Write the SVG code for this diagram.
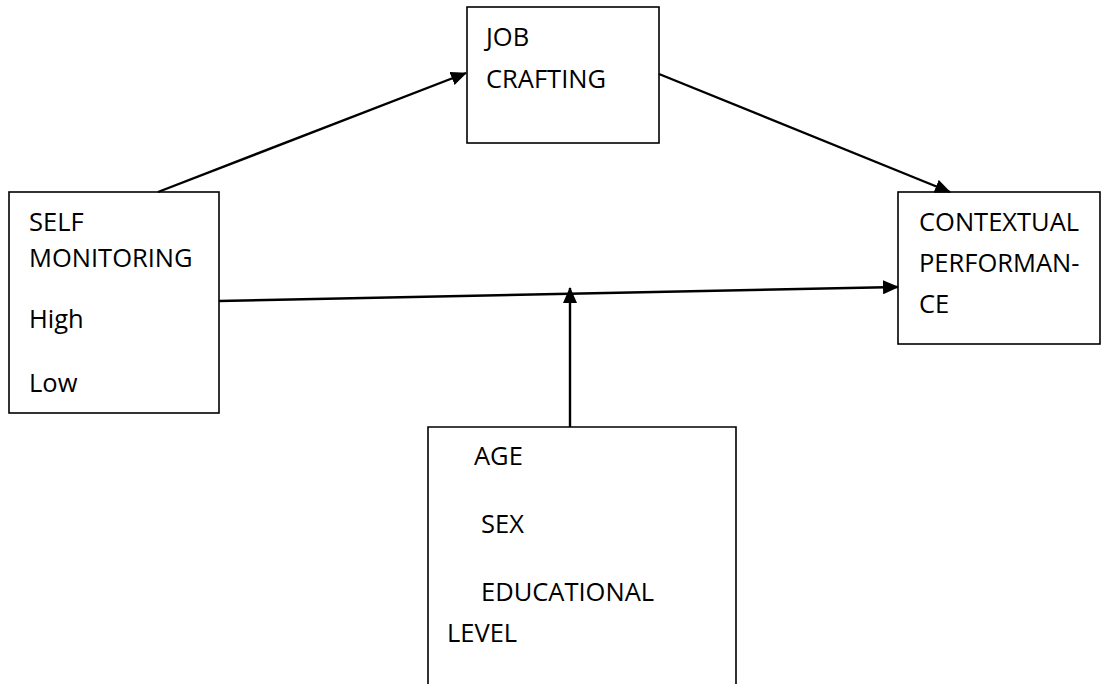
<svg xmlns="http://www.w3.org/2000/svg" width="1102" height="684" viewBox="0 0 1102 684">
<style>
.box{fill:#fff;stroke:#000;stroke-width:1.6}
.t{font-family:"Open Sans","Liberation Sans",sans-serif;font-size:25.5px;fill:#000}
.c{stroke:#000;stroke-width:2.4;fill:none;marker-end:url(#ah)}
</style>
<defs>
<marker id="ah" markerUnits="userSpaceOnUse" markerWidth="16" markerHeight="14" refX="15" refY="7" orient="auto">
<path d="M0,0 L16,7 L0,14 Z" fill="#000"/>
</marker>
</defs>
<rect width="1102" height="684" fill="#fff"/>
<g id="job-crafting">
<rect class="box" x="467" y="7" width="192" height="136"/>
<text class="t" x="486" y="46">JOB</text>
<text class="t" x="486" y="88">CRAFTING</text>
</g>
<g id="self-monitoring">
<rect class="box" x="9" y="192" width="210" height="221"/>
<text class="t" x="29" y="231">SELF</text>
<text class="t" x="29" y="267">MONITORING</text>
<text class="t" x="29" y="328">High</text>
<text class="t" x="29" y="392">Low</text>
</g>
<g id="contextual-performance">
<rect class="box" x="898" y="192" width="202" height="152"/>
<text class="t" x="919" y="231">CONTEXTUAL</text>
<text class="t" x="919" y="272">PERFORMAN-</text>
<text class="t" x="919" y="313">CE</text>
</g>
<g id="demographics">
<path class="box" d="M428,690 L428,427 L736,427 L736,690"/>
<text class="t" x="474" y="465">AGE</text>
<text class="t" x="481" y="533">SEX</text>
<text class="t" x="481" y="601">EDUCATIONAL</text>
<text class="t" x="447" y="642">LEVEL</text>
</g>
<g id="connectors">
<line class="c" x1="158" y1="192" x2="466" y2="73"/>
<line class="c" x1="659" y1="74" x2="950" y2="192"/>
<line class="c" x1="219" y1="301" x2="898" y2="287"/>
<line class="c" x1="570" y1="427" x2="570" y2="288"/>
</g>
</svg>
